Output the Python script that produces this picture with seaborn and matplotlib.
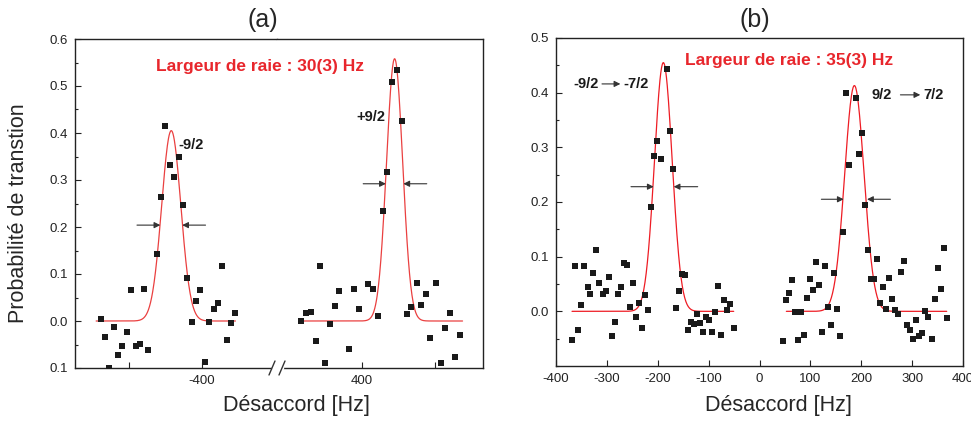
import numpy as np
import pandas as pd
import seaborn as sns
import matplotlib.pyplot as plt
from matplotlib.lines import Line2D
from matplotlib.ticker import MultipleLocator

# ---- panel (a): -9/2 (left of break) and +9/2 (right of break) ----
a_left_hz = [-539, -533, -527, -521, -515, -509, -503, -497, -491, -485, -479, -474,
             -462, -456, -450, -444, -438, -432, -426, -420, -414, -408, -402, -396,
             -390, -384, -378, -372, -366, -360, -354]
a_left_p = [0.004, -0.034, -0.099, -0.012, -0.072, -0.053, -0.023, 0.067, -0.053, -0.048,
            0.068, -0.061, 0.142, 0.263, 0.414, 0.331, 0.306, 0.350, 0.246, 0.092,
            -0.002, 0.042, 0.065, -0.087, -0.003, 0.026, 0.038, 0.118, -0.040, -0.004, 0.016]
a_right_hz = [317, 324, 330, 337, 343, 350, 357, 363, 369, 383, 389, 396, 409, 416, 422,
              429, 435, 442, 448, 455, 462, 468, 475, 481, 488, 494, 501, 508, 514, 521,
              527, 534]
a_right_p = [0.001, 0.017, 0.019, -0.043, 0.117, -0.090, -0.006, 0.031, 0.063, -0.060,
             0.068, 0.025, 0.078, 0.068, 0.011, 0.235, 0.318, 0.508, 0.534, 0.425, 0.014,
             0.030, 0.081, 0.033, 0.057, -0.036, 0.080, -0.089, -0.014, 0.016, -0.076, -0.030]
# Gaussian fits: (centre Hz, amplitude, FWHM Hz, from Hz, to Hz)
a_left_fit = (-442, 0.405, 31, -545, -354)
a_right_fit = (445, 0.558, 26, 317, 538)

# ---- panel (b): -9/2 -> -7/2 (left) and 9/2 -> 7/2 (right) ----
b_left_hz = [-368.5, -362, -356, -350, -344, -338, -332.5, -326.6, -320.7, -315, -308, -302,
             -296, -290.6, -284.7, -278.8, -272, -266.3, -260.4, -254.5, -248.6, -242.7,
             -236.8, -230, -224.4, -218.5, -212.6, -206.7, -200.8, -194.2, -182.4, -176.5,
             -170.6, -164.7, -158.8, -152.9, -147, -140.5, -134.6, -128.7, -122.8, -116.9,
             -111, -105.1, -98.6, -92.7, -86.8, -80.9, -75, -69.1, -63.2, -57.3, -50.7]
b_left_p = [-0.053, 0.083, -0.034, 0.012, 0.083, 0.044, 0.031, 0.071, 0.113, 0.052, 0.032,
            0.038, 0.063, -0.045, -0.020, 0.032, 0.044, 0.089, 0.085, 0.008, 0.051, -0.010,
            0.015, -0.030, 0.029, 0.003, 0.191, 0.284, 0.312, 0.279, 0.443, 0.330, 0.261,
            0.007, 0.037, 0.069, 0.067, -0.034, -0.020, -0.023, -0.004, -0.021, -0.038,
            -0.010, -0.015, -0.038, -0.002, 0.046, -0.043, 0.021, 0.002, 0.013, -0.030]
b_right_hz = [45.6, 51.5, 57.4, 63.3, 69.2, 75.1, 81, 86.9, 92.8, 98.7, 104.6, 110.5, 117,
              122.9, 128.8, 134.7, 140.6, 146.5, 152.4, 159, 164.9, 170.8, 176.7, 189.1,
              195, 201, 206.8, 212.7, 218.6, 224.5, 230.4, 236.3, 242.2, 248.8, 254.7,
              260.6, 266.5, 272.4, 278.3, 284.1, 290, 295.9, 302.5, 308.4, 314.3, 320.2,
              326.1, 332, 338.5, 344.4, 350.3, 356.2, 362.1, 368]
b_right_p = [-0.055, 0.020, 0.034, 0.058, -0.001, -0.053, -0.001, -0.043, 0.024, 0.060,
             0.039, 0.090, 0.048, -0.037, 0.083, 0.008, -0.025, 0.070, 0.004, -0.045, 0.145,
             0.400, 0.268, 0.391, 0.288, 0.327, 0.195, 0.113, 0.060, 0.060, 0.096, 0.016,
             0.045, 0.005, 0.061, 0.022, 0.002, -0.004, 0.072, 0.092, -0.025, -0.034, -0.051,
             -0.015, -0.045, -0.039, 0.001, -0.011, -0.050, 0.022, 0.080, 0.040, 0.115, -0.012]
b_left_fit = (-189, 0.455, 41, -368.5, -50.7)
b_right_fit = (186.5, 0.413, 45, 52.8, 368)

a_yticks = [-0.1, 0.0, 0.1, 0.2, 0.3, 0.4, 0.5, 0.6]
a_ylabels = ['0.1', '0.0', '0.1', '0.2', '0.3', '0.4', '0.5', '0.6']
b_yticks = [0.0, 0.1, 0.2, 0.3, 0.4, 0.5]
b_xticks = [-400, -300, -200, -100, 0, 100, 200, 300, 400]

RED_TXT = '#e8262c'
DARK = '#1a1a1a'

sns.set_theme(style='ticks')
plt.rcParams['font.family'] = ['Liberation Sans', 'DejaVu Sans']
plt.rcParams['xtick.direction'] = 'in'
plt.rcParams['ytick.direction'] = 'in'


def fit_curve(fit):
    c, amp, fwhm, lo, hi = fit
    x = np.linspace(lo, hi, 400)
    return pd.DataFrame({'hz': x, 'p': amp * np.exp(-4 * np.log(2) * (x - c) ** 2 / fwhm ** 2)})


def draw(ax, hz, p, fit, color):
    sns.lineplot(data=fit_curve(fit), x='hz', y='p', ax=ax, color=color, lw=0.9, zorder=2)
    sns.scatterplot(x=hz, y=p, ax=ax, marker='s', s=15, color=DARK, linewidth=0, zorder=3)
    ax.set_xlabel('')
    ax.set_ylabel('')


def fwhm_arrow(ax, x0, x1, y):
    ax.annotate('', xy=(x1, y), xytext=(x0, y),
                arrowprops=dict(arrowstyle='-|>', color='#333333', lw=0.8,
                                mutation_scale=9, shrinkA=0, shrinkB=0))


W, H = 971, 421
fig = plt.figure(figsize=(W / 100, H / 100), dpi=100)

# panel (a) - broken x axis made of two adjacent axes
axl = fig.add_axes([75 / W, 53 / H, 202 / W, 329 / H])
axr = fig.add_axes([277 / W, 53 / H, 206 / W, 329 / H])
draw(axl, a_left_hz, a_left_p, a_left_fit, '#ea4040')
draw(axr, a_right_hz, a_right_p, a_right_fit, '#ea4040')
axl.set_xlim(-574, -297)
axr.set_xlim(284, 566)
for ax in (axl, axr):
    ax.set_ylim(-0.1, 0.6)
axl.spines['right'].set_visible(False)
axr.spines['left'].set_visible(False)
axl.set_yticks(a_yticks)
axl.set_yticklabels(a_ylabels)
axl.yaxis.set_minor_locator(MultipleLocator(0.05))
axr.tick_params(axis='y', which='both', left=False, labelleft=False)
axl.set_xticks([-500, -400])
axl.set_xticklabels(['', '-400'])
axr.set_xticks([400, 500])
axr.set_xticklabels(['400', ''])

fwhm_arrow(axl, -489, -457, 0.204)
fwhm_arrow(axl, -395, -427, 0.204)
fwhm_arrow(axr, 402, 433, 0.292)
fwhm_arrow(axr, 489, 457, 0.292)
axl.text(-432, 0.375, '-9/2', fontsize=10.5, fontweight='bold', color=DARK, ha='left', va='center')
axr.text(392, 0.434, '+9/2', fontsize=10.5, fontweight='bold', color=DARK, ha='left', va='center')
fig.text(260 / W, 1 - 67 / H, 'Largeur de raie : 30(3) Hz', fontsize=12.5, fontweight='bold',
         color=RED_TXT, ha='center', va='center')

# break marks on the bottom axis
yb = 53 / H
fig.add_artist(Line2D([272.5 / W, 281.5 / W], [yb, yb], color='white', lw=2.5, transform=fig.transFigure))
for xc in (272, 282):
    fig.add_artist(Line2D([(xc - 3) / W, (xc + 3) / W], [(53 - 7) / H, (53 + 7) / H],
                          color='#333333', lw=1.0, transform=fig.transFigure))

# panel (b)
axb = fig.add_axes([556 / W, 55 / H, 407 / W, 328 / H])
draw(axb, b_left_hz, b_left_p, b_left_fit, '#ee1c24')
draw(axb, b_right_hz, b_right_p, b_right_fit, '#ee1c24')
axb.set_xlim(-400, 400)
axb.set_ylim(-0.1, 0.5)
axb.set_xticks(b_xticks)
axb.set_xticklabels([str(v) for v in b_xticks])
axb.set_yticks(b_yticks)
axb.yaxis.set_minor_locator(MultipleLocator(0.05))

fwhm_arrow(axb, -252.6, -208, 0.228)
fwhm_arrow(axb, -121.5, -168.7, 0.228)
fwhm_arrow(axb, 121.6, 165.5, 0.205)
fwhm_arrow(axb, 257.3, 211.4, 0.205)
axb.text(-366.6, 0.416, '-9/2', fontsize=10.5, fontweight='bold', color=DARK, ha='left', va='center')
fwhm_arrow(axb, -309.6, -273.5, 0.416)
axb.text(-268, 0.416, '-7/2', fontsize=10.5, fontweight='bold', color=DARK, ha='left', va='center')
axb.text(221, 0.396, '9/2', fontsize=10.5, fontweight='bold', color=DARK, ha='left', va='center')
fwhm_arrow(axb, 277, 316, 0.396)
axb.text(321.5, 0.396, '7/2', fontsize=10.5, fontweight='bold', color=DARK, ha='left', va='center')
axb.text(58.7, 0.459, 'Largeur de raie : 35(3) Hz', fontsize=12.5, fontweight='bold',
         color=RED_TXT, ha='center', va='center')

for ax in (axl, axr, axb):
    ax.tick_params(axis='both', which='major', labelsize=9.5, length=4, width=0.8,
                   colors='#222222', pad=5)
    ax.tick_params(axis='y', which='minor', length=2.5, width=0.8, colors='#222222')
    for s in ax.spines.values():
        s.set_linewidth(1.0)
        s.set_color('#222222')

fig.text(263 / W, 1 - 20 / H, '(a)', fontsize=18, ha='center', va='center')
fig.text(755 / W, 1 - 20 / H, '(b)', fontsize=18, ha='center', va='center')
fig.text(296 / W, 1 - 406 / H, 'Désaccord [Hz]', fontsize=15.5, ha='center', va='center')
fig.text(778 / W, 1 - 405 / H, 'Désaccord [Hz]', fontsize=15.5, ha='center', va='center')
fig.text(19 / W, 1 - 213 / H, 'Probabilité de transtion', fontsize=15.5, rotation=90,
         ha='center', va='center')

fig.savefig('out.png', dpi=100)
